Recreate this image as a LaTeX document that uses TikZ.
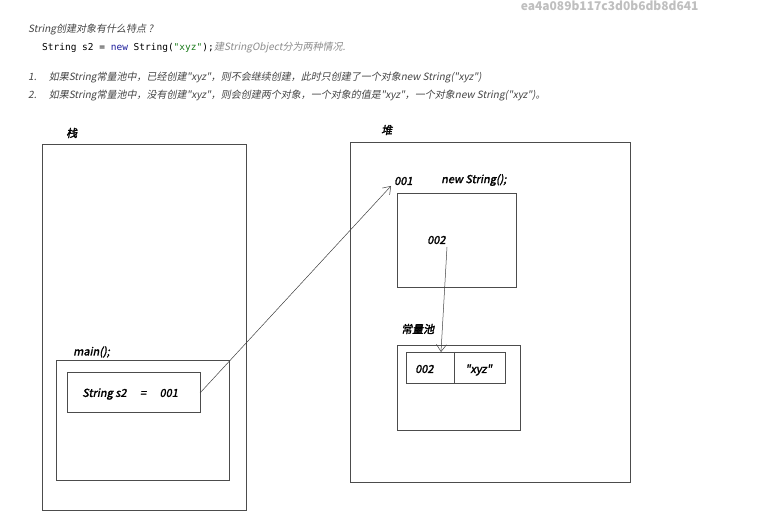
\documentclass[tikz,border=0pt]{standalone}
\usetikzlibrary{arrows.meta}
\usepackage{fontspec}
\newfontfamily\cjk{Noto Sans CJK SC}[FakeSlant=0.2]
\newfontfamily\cjkb{Noto Sans CJK SC}[FakeSlant=0.2,FakeBold=2]
\newfontfamily\cjkup{Noto Sans CJK SC}
\newfontfamily\monof{DejaVu Sans Mono}
\definecolor{txt}{HTML}{444444}
\definecolor{grn}{HTML}{1A7A1A}
\definecolor{kw}{HTML}{1A1A9A}
\begin{document}
\begin{tikzpicture}[x=1pt,y=-1pt,
  box/.style={draw=black!70,line width=0.6pt},
  lab/.style={font=\cjkb\fontsize{11}{13}\selectfont,anchor=west,inner sep=0},
  top/.style={anchor=west,inner sep=0,text=txt,font=\cjk\fontsize{10}{12}\selectfont},
  arr/.style={draw=black!75,line width=0.5pt,-{Straight Barb[length=7pt,width=10pt]}}]
\useasboundingbox (0,0) rectangle (782,518);
\node[anchor=east,text=black!25,font=\cjkup\bfseries\fontsize{12}{14}\selectfont] (wm) at (702,6) {ea4a089b117c3d0b6db8d641};
\node[top] (t1) at (28,30) {String创建对象有什么特点 ?};
\node[top,font=\monof\fontsize{9.5}{11}\selectfont,text=black] (t2) at (42,48) {String s2 = \textcolor{kw}{new} String(\textcolor{grn}{"xyz"});};
\node[top,text=black!45,anchor=west] (t2b) at (t2.east) {建StringObject分为两种情况.};
\node[top] (t3) at (28,78) {1.\quad\ 如果String常量池中，已经创建"xyz"，则不会继续创建，此时只创建了一个对象new String("xyz")};
\node[top] (t4) at (28,96) {2.\quad\ 如果String常量池中，没有创建"xyz"，则会创建两个对象，一个对象的值是"xyz"，一个对象new String("xyz")。};
% stack
\draw[box] (42,144) rectangle (246,510);
\node[lab] (zhan) at (66,133) {栈};
\draw[box] (56,360) rectangle (229,480);
\node[lab] (main) at (73,352) {main();};
\draw[box] (67,372) rectangle (200,412);
\node[lab] (s2) at (82,394) {String s2\quad\ =\quad\ 001};
\coordinate (a1) at (200,393);
% heap
\draw[box] (350,142) rectangle (630,482);
\node[lab] (dui) at (381,130) {堆};
\node[lab] (o1) at (394,181) {001};
\node[lab] (ns) at (441,180) {new String();};
\draw[box] (397,193) rectangle (516,287);
\node[lab] (o2) at (427,240) {002};
\node[lab] (pool) at (401,329) {常量池};
\draw[box] (397,345) rectangle (520,430);
\draw[box] (406,352) rectangle (505,383);
\draw[box] (454,352) -- (454,383);
\node[lab] (p2) at (415,369) {002};
\node[lab] (px) at (465,370) {"xyz"};
\coordinate (a2) at (391,186);
\coordinate (b1) at (447,247);
\coordinate (b2) at (441,352);
\draw[arr] (a1) -- (a2);
\draw[arr] (b1) -- (b2);
\end{tikzpicture}
\end{document}
